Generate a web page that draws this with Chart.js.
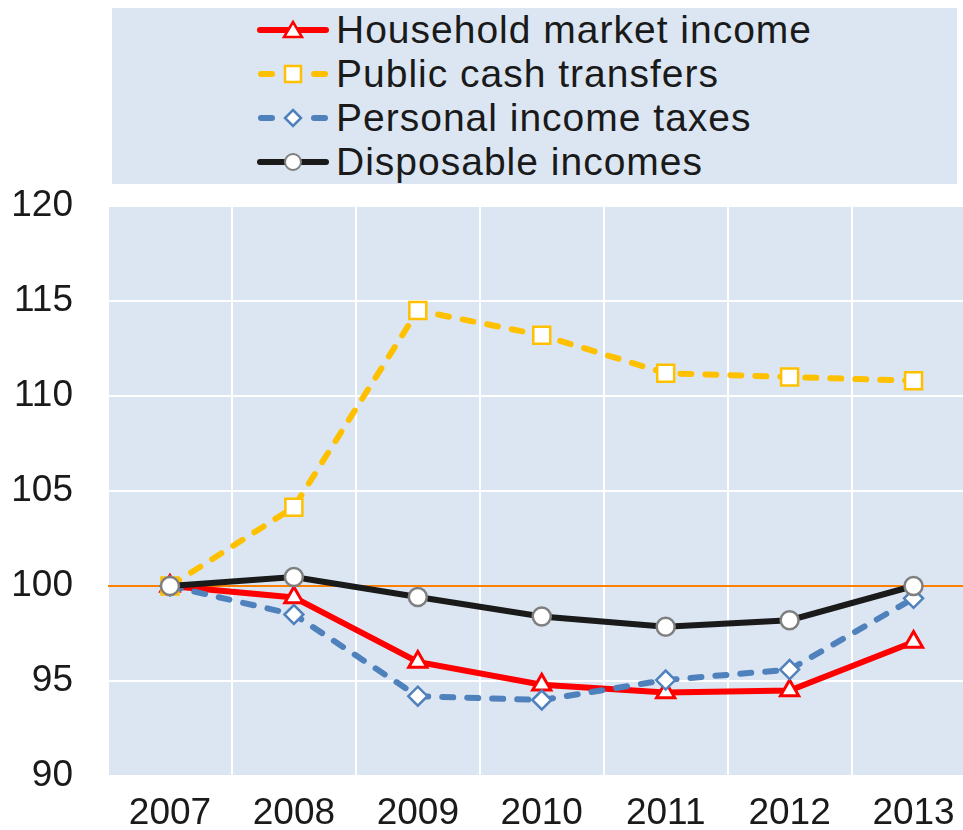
<!DOCTYPE html>
<html>
<head>
<meta charset="utf-8">
<script src="https://cdn.jsdelivr.net/npm/chart.js@4/dist/chart.umd.min.js"></script>
<style>
  html, body { margin: 0; padding: 0; width: 963px; height: 830px; overflow: hidden; background: #ffffff; }
  #wrap { position: absolute; left: 0; top: 0; width: 990px; height: 830px; }
  #c { width: 990px; height: 830px; display: block; }
  #legend { position: absolute; left: 112px; top: 8px; width: 845px; height: 176px; background: #dce6f2; }
  .row { position: absolute; left: 145px; height: 44px; display: flex; align-items: center; font-family: "Liberation Sans", Arial, sans-serif; font-size: 39px; letter-spacing: 1px; color: #1a1a1a; white-space: nowrap; }
  .row svg { margin-right: 7px; }
</style>
</head>
<body>
<div id="wrap"><canvas id="c" width="990" height="830"></canvas></div>
<div id="legend"></div>
<script>
const years = ["2007", "2008", "2009", "2010", "2011", "2012", "2013"];
const yTicks = [90, 95, 100, 105, 110, 115, 120];
const seriesNames = ["Household market income", "Public cash transfers", "Personal income taxes", "Disposable incomes"];
const householdMarket = [100, 99.4, 96.0, 94.8, 94.4, 94.5, 97.05];
const publicCash = [100, 104.15, 114.5, 113.2, 111.2, 111.0, 110.8];
const personalTaxes = [100, 98.5, 94.2, 94.0, 95.05, 95.6, 99.35];
const disposable = [100, 100.47, 99.42, 98.4, 97.85, 98.2, 100];

const styles = [
  { color: "#ff0000", dash: [], marker: "triangle", mborder: "#ff0000", radius: 10.5, bw: 3, order: 4 },
  { color: "#ffc000", dash: [11, 14], marker: "rect", mborder: "#ffc000", radius: 12, bw: 2.5, order: 3 },
  { color: "#4f81bd", dash: [11, 14], marker: "rectRot", mborder: "#4f81bd", radius: 9.5, bw: 2.5, order: 2 },
  { color: "#1a1a1a", dash: [], marker: "circle", mborder: "#7f7f7f", radius: 9, bw: 2.5, order: 1 }
];
const seriesData = [householdMarket, publicCash, personalTaxes, disposable];

const datasets = seriesNames.map((n, i) => ({
  label: n,
  data: seriesData[i],
  borderColor: styles[i].color,
  borderWidth: 6,
  borderDash: styles[i].dash,
  borderCapStyle: styles[i].dash.length ? "round" : "butt",
  tension: 0,
  pointStyle: styles[i].marker,
  pointRadius: styles[i].radius,
  pointHoverRadius: styles[i].radius,
  pointBackgroundColor: "#ffffff",
  pointBorderColor: styles[i].mborder,
  pointBorderWidth: styles[i].bw,
  order: styles[i].order,
  fill: false
}));

// HTML legend
const legend = document.getElementById("legend");
const rowTops = [0, 44, 88, 132];
function markerSvg(i) {
  const s = styles[i];
  let m = "";
  const cx = 36, cy = 12;
  if (s.marker === "triangle") m = `<polygon points="${cx},${cy-8} ${cx+9},${cy+7} ${cx-9},${cy+7}" fill="#fff" stroke="${s.mborder}" stroke-width="2.5"/>`;
  if (s.marker === "rect") m = `<rect x="${cx-8}" y="${cy-8}" width="16" height="16" fill="#fff" stroke="${s.mborder}" stroke-width="2.5"/>`;
  if (s.marker === "rectRot") m = `<polygon points="${cx},${cy-8} ${cx+8},${cy} ${cx},${cy+8} ${cx-8},${cy}" fill="#fff" stroke="${s.mborder}" stroke-width="2.5"/>`;
  if (s.marker === "circle") m = `<circle cx="${cx}" cy="${cy}" r="8" fill="#fff" stroke="${s.mborder}" stroke-width="2"/>`;
  let line;
  if (s.dash.length) line = `<line x1="4" y1="${cy}" x2="15" y2="${cy}" stroke="${s.color}" stroke-width="6" stroke-linecap="round"/><line x1="57" y1="${cy}" x2="68" y2="${cy}" stroke="${s.color}" stroke-width="6" stroke-linecap="round"/>`;
  else line = `<line x1="3" y1="${cy}" x2="69" y2="${cy}" stroke="${s.color}" stroke-width="6" stroke-linecap="round"/>`;
  return `<svg width="72" height="24" viewBox="0 0 72 24">${line}${m}</svg>`;
}
seriesNames.forEach((n, i) => {
  const d = document.createElement("div");
  d.className = "row";
  d.style.top = rowTops[i] + "px";
  d.innerHTML = markerSvg(i) + `<span>${n}</span>`;
  legend.appendChild(d);
});

const bgPlugin = {
  id: "plotBg",
  beforeDraw(chart) {
    const a = chart.chartArea, ctx = chart.ctx;
    ctx.save();
    ctx.fillStyle = "#dce6f2";
    ctx.fillRect(a.left, a.top, a.right - a.left, a.bottom - a.top);
    ctx.restore();
  }
};

new Chart(document.getElementById("c"), {
  type: "line",
  data: { labels: years, datasets },
  options: {
    responsive: false,
    devicePixelRatio: 1,
    animation: false,
    layout: { padding: { top: 206, right: 0, bottom: 0, left: 0 } },
    plugins: { legend: { display: false }, tooltip: { enabled: false } },
    scales: {
      x: {
        offset: true,
        grid: { offset: true, color: "#ffffff", lineWidth: 2, drawTicks: false },
        border: { display: false },
        ticks: { font: { family: "Liberation Sans", size: 37 }, color: "#1a1a1a", padding: 16, maxRotation: 0 },
        afterFit(s) { s.height = 54; s.paddingLeft = 0; s.paddingRight = 0; }
      },
      y: {
        min: 90, max: 120,
        afterBuildTicks(s) { s.ticks = yTicks.map(v => ({ value: v })); },
        grid: {
          color: c => (c.tick && c.tick.value === 100 ? "#ff8000" : "#ffffff"),
          lineWidth: 2, drawTicks: false
        },
        border: { display: false },
        ticks: { font: { family: "Liberation Sans", size: 37 }, color: "#1a1a1a", padding: 35 },
        afterFit(s) { s.width = 108; s.paddingTop = 0; s.paddingBottom = 0; }
      }
    }
  },
  plugins: [bgPlugin]
});
</script>
</body>
</html>
